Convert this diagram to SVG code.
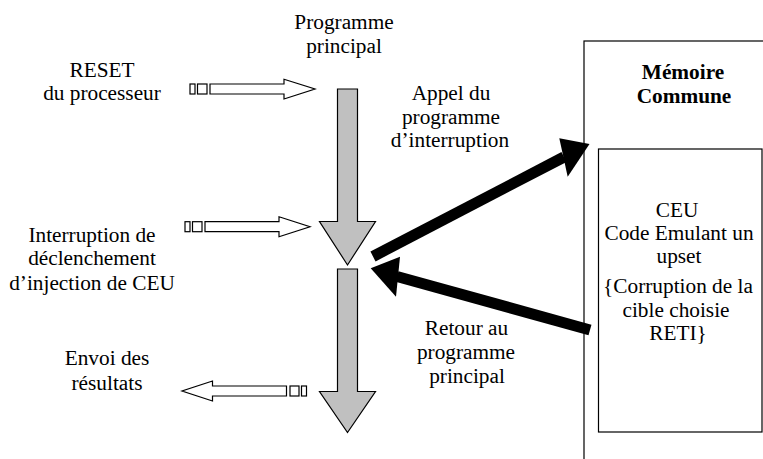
<svg xmlns="http://www.w3.org/2000/svg" width="763" height="459" viewBox="0 0 763 459">
  <style>
    text { font-family: 'Liberation Serif', 'DejaVu Serif', serif; font-size: 21.3px; fill: #000; text-anchor: middle; }
    .bold { font-weight: bold; }
    .flow { fill: #c0c0c0; stroke: #000; stroke-width: 1.2; }
    .signal { fill: #fff; stroke: #000; stroke-width: 1.2; }
    .box { fill: none; stroke: #000; stroke-width: 1.2; }
    .call { stroke: #000; stroke-width: 11; fill: none; }
    .head { fill: #000; }
  </style>
  <rect width="763" height="459" fill="#fff"/>

  <!-- shared memory -->
  <g id="memoire-commune" font-family="Liberation Serif, serif">
    <rect class="box" x="584" y="41" width="200" height="440"/>
    <text class="bold" x="683" y="78.5">Mémoire</text>
    <text class="bold" x="684" y="103">Commune</text>
  </g>

  <g id="ceu" font-family="Liberation Serif, serif">
    <rect class="box" x="598.5" y="149" width="163.5" height="283"/>
    <text x="677" y="216.5">CEU</text>
    <text x="679" y="239.5">Code Emulant un</text>
    <text x="679" y="263">upset</text>
    <text x="678" y="293">{Corruption de la</text>
    <text x="676" y="316.5">cible choisie</text>
    <text x="678" y="340">RETI}</text>
  </g>

  <!-- main program flow -->
  <g id="programme-principal" font-family="Liberation Serif, serif">
    <text x="344" y="28.5">Programme</text>
    <text x="344" y="53">principal</text>
    <polygon class="flow" points="337.5,89 357.5,89 357.5,221.5 375.5,221.5 347.5,265 319.5,221.5 337.5,221.5"/>
    <polygon class="flow" points="337.5,269 357.5,269 357.5,391.5 375.5,391.5 347.5,432.5 319.5,391.5 337.5,391.5"/>
  </g>

  <g id="reset" font-family="Liberation Serif, serif">
    <text x="102" y="76.5">RESET</text>
    <text x="102" y="100">du processeur</text>
  </g>

  <g id="interruption" font-family="Liberation Serif, serif">
    <text x="92" y="241.5">Interruption de</text>
    <text x="92" y="265">déclenchement</text>
    <text x="92" y="289.5">d’injection de CEU</text>
  </g>

  <g id="envoi" font-family="Liberation Serif, serif">
    <text x="107" y="365">Envoi des</text>
    <text x="107" y="390">résultats</text>
  </g>

  <g id="appel" font-family="Liberation Serif, serif">
    <text x="451" y="100">Appel du</text>
    <text x="451" y="123.5">programme</text>
    <text x="450" y="147">d’interruption</text>
  </g>

  <g id="retour" font-family="Liberation Serif, serif">
    <text x="466.5" y="335">Retour au</text>
    <text x="466" y="358.5">programme</text>
    <text x="467" y="383">principal</text>
  </g>

  <!-- connectors -->
  <g id="connectors">
    <!-- reset signal -->
    <g id="sig-reset">
      <rect class="signal" x="190" y="84" width="5" height="10"/>
      <rect class="signal" x="197.5" y="84" width="9.5" height="10"/>
      <polygon class="signal" points="210,84 284,84 284,79.3 315,89 284,99 284,94 210,94"/>
    </g>
    <!-- interrupt signal -->
    <g id="sig-interruption">
      <rect class="signal" x="185" y="221.7" width="5" height="10"/>
      <rect class="signal" x="192.5" y="221.7" width="9.5" height="10"/>
      <polygon class="signal" points="205,221.7 279,221.7 279,216.7 310,226.7 279,236.7 279,231.7 205,231.7"/>
    </g>
    <!-- results out -->
    <g id="sig-envoi">
      <rect class="signal" x="301.5" y="386" width="5" height="10"/>
      <rect class="signal" x="290" y="386" width="9" height="10"/>
      <polygon class="signal" points="286.5,386 212.5,386 212.5,381 182,391 212.5,401 212.5,396 286.5,396"/>
    </g>
    <!-- call to interrupt routine -->
    <g id="appel-ceu">
      <line class="call" x1="373" y1="256.5" x2="564" y2="157"/>
      <polygon class="head" points="589.5,144 559.3,138.3 567.7,176.7"/>
    </g>
    <!-- return to main program -->
    <g id="retour-programme">
      <line class="call" x1="590" y1="330" x2="397" y2="276.5"/>
      <polygon class="head" points="370.7,268.3 400,256.7 396,296.7"/>
    </g>
  </g>
</svg>
